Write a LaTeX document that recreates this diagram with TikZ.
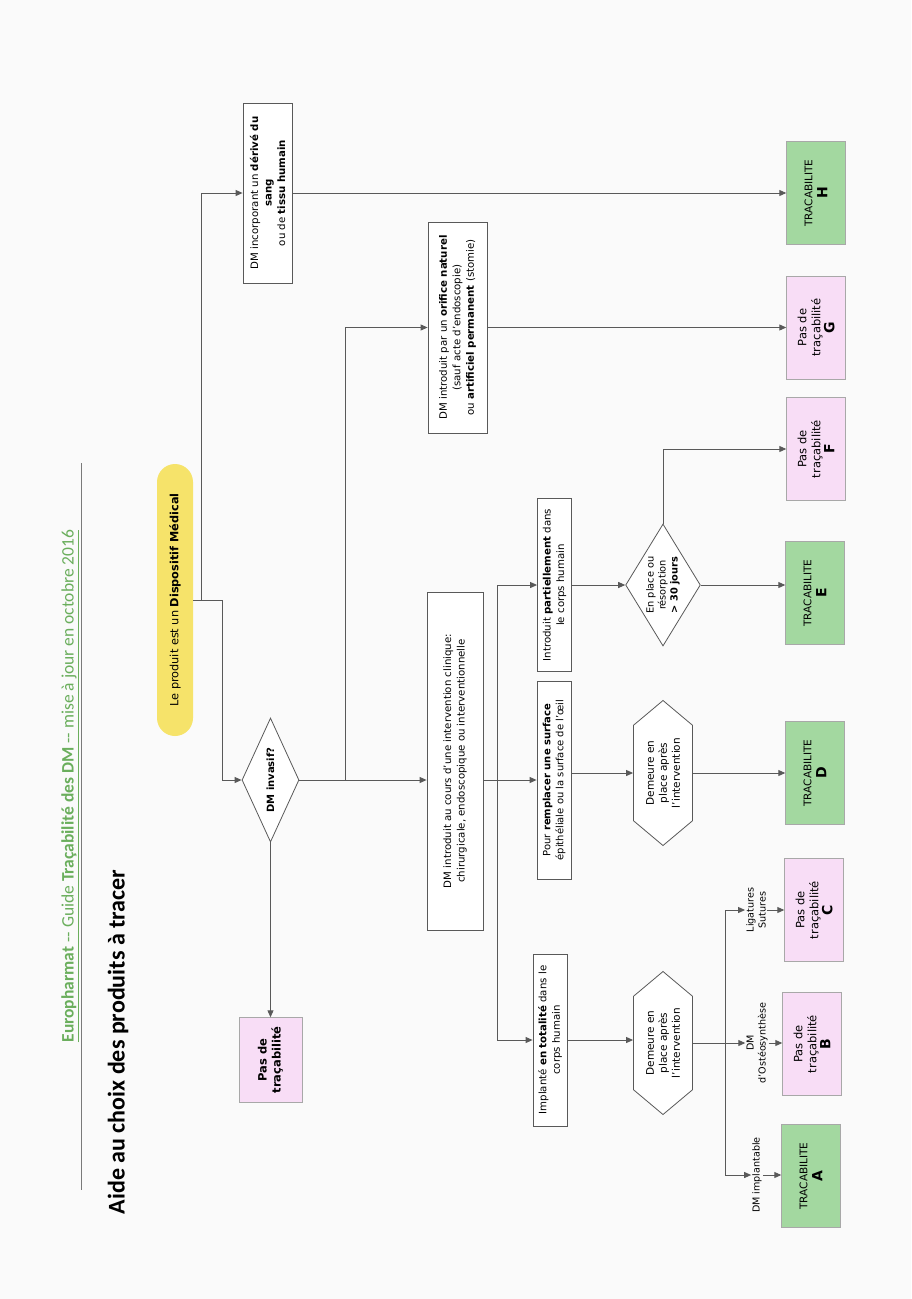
\documentclass[tikz,border=0pt]{standalone}
\usepackage{fontspec}
\setmainfont{DejaVu Sans}
\newfontfamily\calibri{Carlito}
\usetikzlibrary{arrows.meta,shapes.geometric,shapes.symbols}

\definecolor{trait}{HTML}{595959}
\definecolor{bord}{HTML}{A8A8A8}
\definecolor{jaune}{HTML}{F6E36A}
\definecolor{rose}{HTML}{F8DDF6}
\definecolor{vert}{HTML}{A3D8A0}
\definecolor{titrevert}{HTML}{6AAE5C}
\definecolor{fond}{HTML}{FAFAFA}

\newcommand\lettre[1]{{\fontsize{14}{16}\selectfont\bfseries #1}}

\tikzset{
  base/.style={rotate=90, align=center, inner sep=1pt, font=\fontsize{10.2}{13.5}\selectfont},
  boite/.style={base, draw=trait, fill=white, line width=0.8pt},
  pastrace/.style={base, draw=bord, fill=rose, minimum width=103, minimum height=59,
    font=\fontsize{11.5}{14}\selectfont},
  trace/.style={base, draw=bord, fill=vert, minimum width=103, minimum height=59,
    font=\fontsize{10.5}{15}\selectfont},
  question/.style={base, diamond, draw=trait, fill=white, line width=0.8pt, inner sep=-4pt},
  demeure/.style={base, signal, signal to=east and west, signal pointer angle=100,
    draw=trait, fill=white, line width=0.8pt, inner sep=0pt, font=\fontsize{10.5}{13}\selectfont},
  etiquette/.style={base, font=\fontsize{9.6}{12}\selectfont},
  fleche/.style={-{Triangle[length=7pt,width=6pt]}, draw=trait, line width=0.9pt}
}

\begin{document}
\begin{tikzpicture}[x=1pt,y=-1pt]
  \fill[fond] (0,0) rectangle (911,1299);
  \useasboundingbox (0,0) rectangle (911,1299);

  % en-tete
  \node[rotate=90, font=\calibri\fontsize{17.5}{19}\selectfont, text=titrevert] (entete) at (70,786)
    {\underline{\textbf{Europharmat} -- Guide \textbf{Traçabilité des DM} -- mise à jour en octobre 2016}};
  \coordinate (l1) at (81,463);
  \coordinate (l2) at (81,1190);
  \draw[trait!80, line width=0.9pt] (l1) -- (l2);
  \node[rotate=90, font=\calibri\bfseries\fontsize{24}{26}\selectfont] (titre) at (118,1042)
    {Aide au choix des produits à tracer};

  % noeuds
  \node[base, fill=jaune, rounded corners=18pt, minimum width=272, minimum height=36,
    font=\fontsize{11.3}{13}\selectfont] (dm) at (175,600)
    {Le produit est un \textbf{Dispositif Médical}};
  \node[boite, minimum width=180, minimum height=49] (sang) at (267.5,193)
    {DM incorporant un \textbf{dérivé du}\\\textbf{sang}\\ou de \textbf{tissu humain}};
  \node[question, minimum width=124, minimum height=57, font=\fontsize{10}{12}\selectfont] (invasif) at (270.5,780)
    {\textbf{DM invasif?}};
  \node[pastrace, minimum width=85, minimum height=63] (pasinv) at (270.5,1060)
    {\textbf{Pas de}\\\textbf{traçabilité}};
  \node[boite, minimum width=211, minimum height=59] (orifice) at (457.5,327.5)
    {DM introduit par un \textbf{orifice naturel}\\(sauf acte d'endoscopie)\\ou \textbf{artificiel permanent} (stomie)};
  \node[boite, minimum width=338, minimum height=56] (interv) at (455,761)
    {DM introduit au cours d'une intervention clinique:\\chirurgicale, endoscopique ou interventionnelle};
  \node[boite, minimum width=173, minimum height=34] (partiel) at (554.5,585)
    {Introduit \textbf{partiellement} dans\\le corps humain};
  \node[boite, minimum width=198, minimum height=34, font=\fontsize{10}{13}\selectfont] (surface) at (554,780)
    {Pour \textbf{remplacer une surface}\\épithéliale ou la surface de l'œil};
  \node[boite, minimum width=172, minimum height=34] (totalite) at (550,1040)
    {Implanté \textbf{en totalité} dans le\\corps humain};
  \node[question, minimum width=122, minimum height=70, font=\fontsize{9.8}{12}\selectfont] (enplace) at (663,585)
    {En place ou\\résorption\\\textbf{> 30 jours}};
  \node[demeure, minimum width=145, minimum height=59] (hexD) at (663,773)
    {Demeure en\\place après\\l'intervention};
  \node[demeure, minimum width=143, minimum height=59] (hexB) at (663,1043)
    {Demeure en\\place après\\l'intervention};

  \node[trace] (tracH) at (816,193) {TRACABILITE\\\lettre{H}};
  \node[pastrace] (pasG) at (816,327.5) {Pas de\\traçabilité\\\lettre{G}};
  \node[pastrace] (pasF) at (816,449) {Pas de\\traçabilité\\\lettre{F}};
  \node[trace] (tracE) at (815,593) {TRACABILITE\\\lettre{E}};
  \node[trace] (tracD) at (815,773) {TRACABILITE\\\lettre{D}};
  \node[pastrace] (pasC) at (814,910) {Pas de\\traçabilité\\\lettre{C}};
  \node[pastrace] (pasB) at (812,1044) {Pas de\\traçabilité\\\lettre{B}};
  \node[trace] (tracA) at (811,1176) {TRACABILITE\\\lettre{A}};

  \node[etiquette] (labC) at (756,910) {Ligatures\\Sutures};
  \node[etiquette] (labB) at (757,1043) {DM\\d'Ostéosynthèse};
  \node[etiquette] (labA) at (757,1175) {DM implantable};

  % liaisons
  \coordinate (jA) at (201,600);
  \coordinate (jB) at (222,600);
  \coordinate (jC) at (345,780);
  \coordinate (jD) at (497,780);
  \coordinate (jE) at (725,1043);
  \begin{scope}[fleche]
    \draw (dm.south) -- (jB) |- (invasif.north);
    \draw (jA) |- (sang.north);
    \draw (sang.south) -- (sang.south -| tracH.north);
    \draw (invasif.west) -- (pasinv.east);
    \draw (invasif.south) -- (invasif.south -| interv.north);
    \draw (jC) |- (orifice.north);
    \draw (orifice.south) -- (orifice.south -| pasG.north);
    \draw (interv.south |- surface.north) -- (surface.north);
    \draw (jD) |- (partiel.north);
    \draw (jD) |- (totalite.north);
    \draw (partiel.south) -- (enplace.north);
    \draw (enplace.south) -- (enplace.south -| tracE.north);
    \draw (enplace.east) |- (pasF.north);
    \draw (surface.south |- hexD.north) -- (hexD.north);
    \draw (hexD.south) -- (tracD.north);
    \draw (totalite.south) -- (totalite.south -| hexB.north);
    \draw (hexB.south) -- (labB.north);
    \draw (jE) |- (labA.north);
    \draw (jE) |- (labC.north);
    \draw (labA.south) -- (labA.south -| tracA.north);
    \draw (labB.south) -- (labB.south -| pasB.north);
    \draw (labC.south) -- (labC.south -| pasC.north);
  \end{scope}
\end{tikzpicture}
\end{document}
